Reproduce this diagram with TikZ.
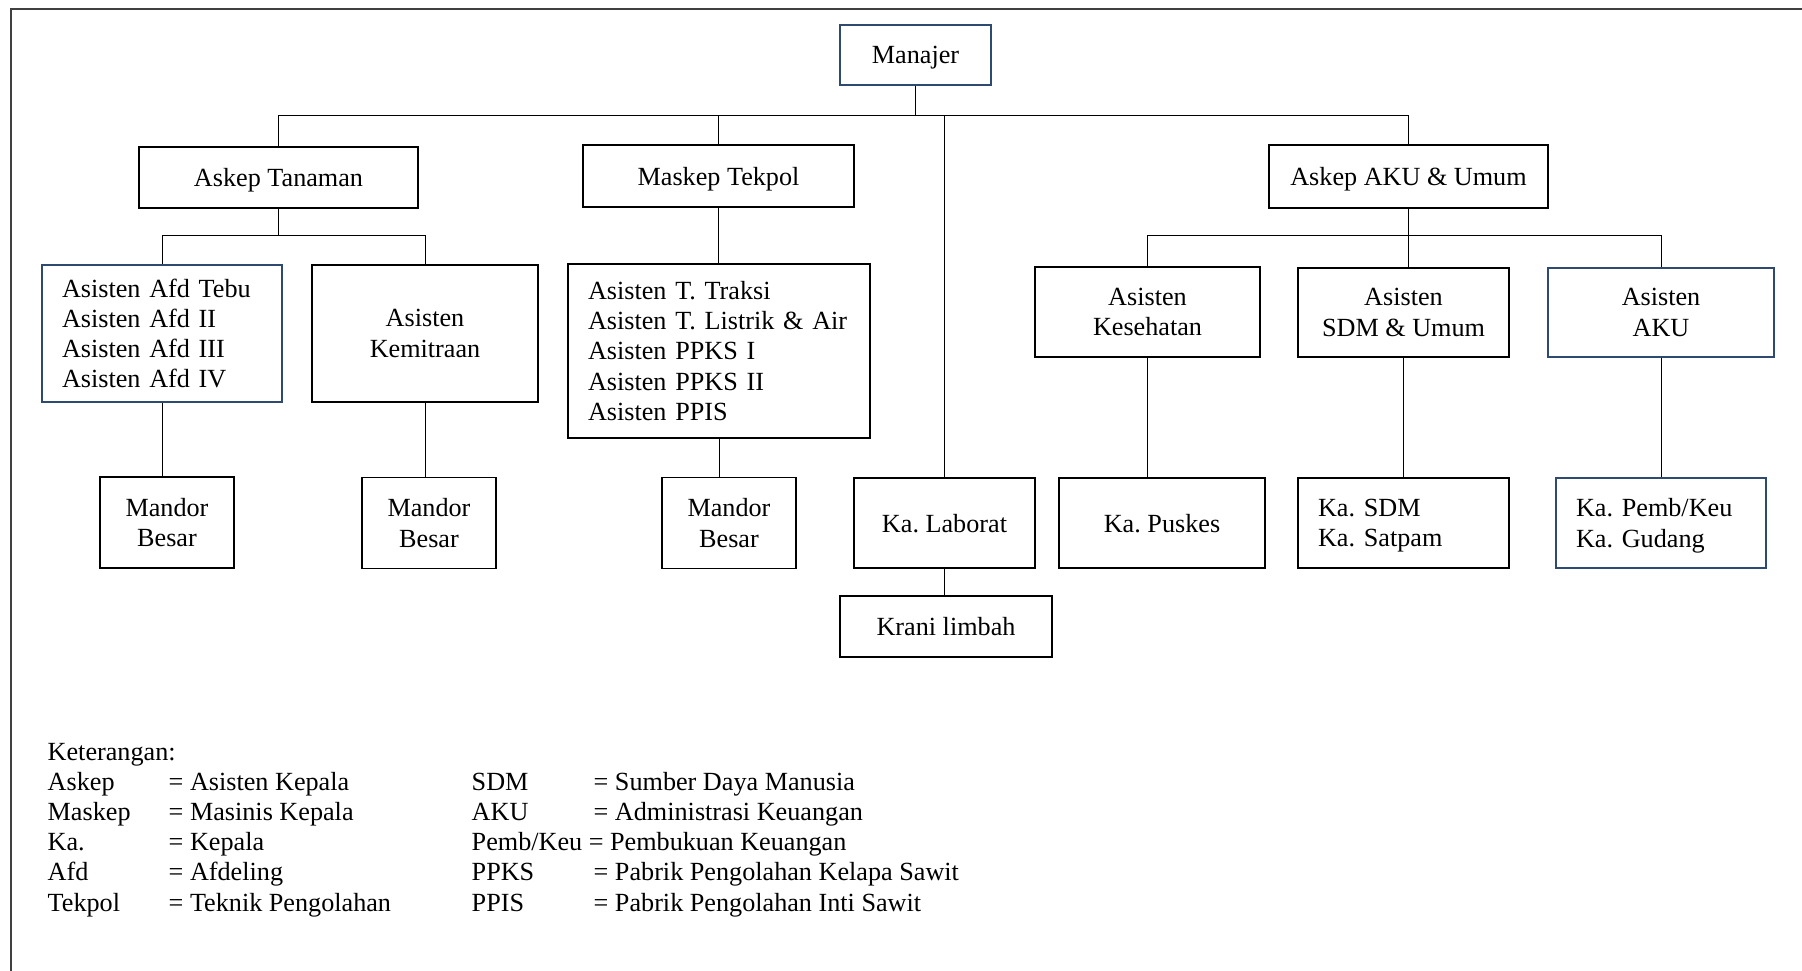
\documentclass[tikz,border=0pt]{standalone}
\usepackage{fontspec}
\setmainfont{Liberation Serif}
\frenchspacing
\definecolor{biru}{HTML}{2E4A70}
\begin{document}
\begin{tikzpicture}[
  kotak/.style={draw, line width=0.15mm, inner sep=0pt, align=center, font=\fontsize{7.45pt}{8.6pt}\selectfont},
  satu/.style={kotak, text depth=0pt},
  kiri/.style={kotak, align=left, inner xsep=0.2cm},
  garis/.style={line width=0.1mm}]
\useasboundingbox (0,0) rectangle (18.02,-9.71);
\draw[line width=0.2mm, black!75] (18.02,-0.09) -- (0.11,-0.09) -- (0.11,-9.71);

\node[satu, draw=biru, minimum width=1.51cm, minimum height=0.60cm] (man) at (9.155,-0.55) {Manajer};
\node[satu, minimum width=2.79cm, minimum height=0.61cm] (tan) at (2.785,-1.775) {Askep Tanaman};
\node[satu, minimum width=2.71cm, minimum height=0.62cm] (tek) at (7.185,-1.76) {Maskep Tekpol};
\node[satu, minimum width=2.79cm, minimum height=0.63cm] (aku) at (14.085,-1.765) {Askep AKU \& Umum};

\node[kiri, draw=biru, text width=2.0cm, minimum height=1.37cm] (afd) at (1.62,-3.335) {Asisten Afd Tebu\\Asisten Afd II\\Asisten Afd III\\Asisten Afd IV};
\node[kotak, minimum width=2.26cm, minimum height=1.37cm] (mit) at (4.25,-3.335) {Asisten\\Kemitraan};
\node[kiri, text width=2.62cm, minimum height=1.74cm] (tr) at (7.19,-3.51) {Asisten T. Traksi\\Asisten T. Listrik \& Air\\Asisten PPKS I\\Asisten PPKS II\\Asisten PPIS};
\node[kotak, minimum width=2.25cm, minimum height=0.90cm] (kes) at (11.475,-3.12) {Asisten\\Kesehatan};
\node[kotak, minimum width=2.11cm, minimum height=0.89cm] (sdm) at (14.035,-3.125) {Asisten\\SDM \& Umum};
\node[kotak, draw=biru, minimum width=2.26cm, minimum height=0.89cm] (asaku) at (16.61,-3.125) {Asisten\\AKU};

\node[kotak, minimum width=1.34cm, minimum height=0.91cm] (mb1) at (1.67,-5.225) {Mandor\\Besar};
\node[kotak, minimum width=1.34cm, minimum height=0.91cm] (mb2) at (4.29,-5.23) {Mandor\\Besar};
\node[kotak, minimum width=1.34cm, minimum height=0.91cm] (mb3) at (7.29,-5.23) {Mandor\\Besar};
\node[satu, minimum width=1.81cm, minimum height=0.90cm] (lab) at (9.445,-5.23) {Ka. Laborat};
\node[satu, minimum width=2.12cm, minimum height=0.61cm] (krani) at (9.46,-6.265) {Krani limbah};
\node[satu, minimum width=2.06cm, minimum height=0.90cm] (pus) at (11.62,-5.23) {Ka. Puskes};
\node[kiri, text width=1.71cm, minimum height=0.90cm] (kasdm) at (14.035,-5.23) {Ka. SDM\\\smash{Ka. Satpam}};
\node[kiri, draw=biru, text width=1.70cm, minimum height=0.90cm] (kapemb) at (16.61,-5.23) {Ka. Pemb/Keu\\\smash{Ka. Gudang}};

\coordinate (b) at (0,-1.16);
\coordinate (b1) at (0,-2.36);
\draw[garis] (man.south) -- (man.south |- b);
\draw[garis] (tan.north) -- (tan.north |- b) -- (aku.north |- b) -- (aku.north);
\draw[garis] (tek.north) -- (tek.north |- b);
\draw[garis] (lab.north) -- (lab.north |- b);

\draw[garis] (tan.south) -- (tan.south |- b1);
\draw[garis] (afd.north) -- (afd.north |- b1) -- (mit.north |- b1) -- (mit.north);
\draw[garis] (afd.south) -- (afd.south |- mb1.north);
\draw[garis] (mit.south) -- (mit.south |- mb2.north);
\draw[garis] (tek.south) -- (tek.south |- tr.north);
\draw[garis] (tr.south) -- (tr.south |- mb3.north);
\draw[garis] (lab.south) -- (lab.south |- krani.north);

\draw[garis] (aku.south) -- (aku.south |- sdm.north);
\draw[garis] (kes.north) -- (kes.north |- b1) -- (asaku.north |- b1) -- (asaku.north);
\draw[garis] (kes.south) -- (kes.south |- pus.north);
\draw[garis] (sdm.south) -- (kasdm.north);
\draw[garis] (asaku.south) -- (kapemb.north);

\node[anchor=base west, inner sep=0pt, font=\fontsize{7.45pt}{8.6pt}\selectfont] (ket) at (0.47,-7.60) {%
\begin{tabular}[t]{@{}p{1.21cm}@{}p{3.03cm}@{}p{1.22cm}@{}l@{}}
\multicolumn{4}{@{}l@{}}{Keterangan:}\\
Askep & = Asisten Kepala & SDM & = Sumber Daya Manusia\\
Maskep & = Masinis Kepala & AKU & = Administrasi Keuangan\\
Ka. & = Kepala & \multicolumn{2}{@{}l@{}}{Pemb/Keu = Pembukuan Keuangan}\\
Afd & = Afdeling & PPKS & = Pabrik Pengolahan Kelapa Sawit\\
Tekpol & = Teknik Pengolahan & PPIS & = Pabrik Pengolahan Inti Sawit
\end{tabular}};
\end{tikzpicture}
\end{document}
